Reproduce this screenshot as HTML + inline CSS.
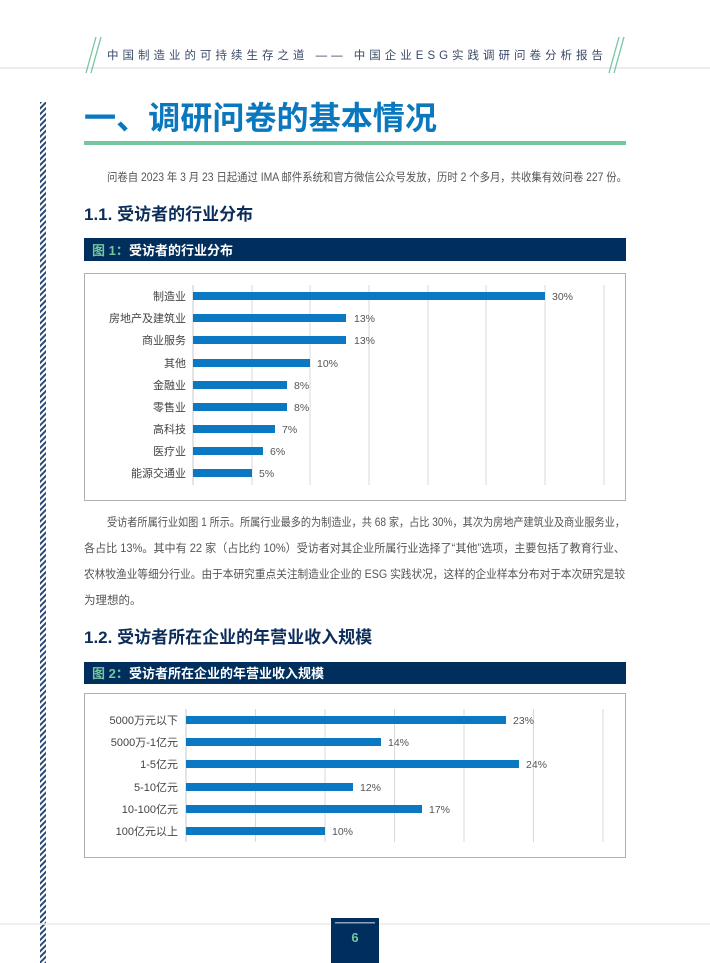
<!DOCTYPE html>
<html><head><meta charset="utf-8"><style>
body{margin:0;background:#fff;}
svg{display:block;font-family:"Liberation Sans","Noto Sans CJK SC",sans-serif;}
</style></head><body>
<svg width="710" height="963" viewBox="0 0 710 963" xmlns="http://www.w3.org/2000/svg">
<defs>
<pattern id="hatch" width="4" height="4" patternUnits="userSpaceOnUse" patternTransform="rotate(45)">
<rect width="4" height="4" fill="#fff"/><rect width="2" height="4" fill="#2a4a78"/></pattern>
</defs>
<line x1="0" y1="68" x2="710" y2="68" stroke="#e6e6e6" stroke-width="1.5"/>
<g stroke="#74c6a0" stroke-width="1.3"><line x1="86" y1="73" x2="96" y2="37"/><line x1="91" y1="73" x2="101" y2="37"/>
<line x1="609" y1="73" x2="619" y2="37"/><line x1="614" y1="73" x2="624" y2="37"/></g>
<text x="107" y="59" font-size="11.5" fill="#3a4a6a" textLength="496" lengthAdjust="spacing">中国制造业的可持续生存之道 —— 中国企业ESG实践调研问卷分析报告</text>
<rect x="40" y="102" width="6" height="861" fill="url(#hatch)"/>
<text x="84" y="129" font-size="32" font-weight="bold" fill="#0a78bf" textLength="353" lengthAdjust="spacingAndGlyphs">一、调研问卷的基本情况</text>
<rect x="84" y="141" width="542" height="4" fill="#74c6a0"/>
<text x="107" y="181" font-size="11.5" fill="#555" textLength="520" lengthAdjust="spacingAndGlyphs">问卷自 2023 年 3 月 23 日起通过 IMA 邮件系统和官方微信公众号发放，历时 2 个多月，共收集有效问卷 227 份。</text>
<text x="84" y="220" font-size="17" font-weight="bold" fill="#0c2d5a">1.1. 受访者的行业分布</text>
<rect x="84" y="238" width="542" height="23" fill="#002f5e"/>
<text x="92" y="255" font-size="13" font-weight="bold" fill="#74c6a0">图 1：</text>
<text x="129" y="255" font-size="13" font-weight="bold" fill="#fff">受访者的行业分布</text>
<rect x="84.5" y="273.5" width="541" height="227" fill="#fff" stroke="#b0b0b0"/>
<g stroke="#d9d9d9" stroke-width="1">
<line x1="252" y1="285" x2="252" y2="485"/><line x1="310" y1="285" x2="310" y2="485"/><line x1="369" y1="285" x2="369" y2="485"/><line x1="428" y1="285" x2="428" y2="485"/><line x1="486" y1="285" x2="486" y2="485"/><line x1="545" y1="285" x2="545" y2="485"/><line x1="604" y1="285" x2="604" y2="485"/></g>
<line x1="193" y1="285" x2="193" y2="485" stroke="#c8c8c8"/>
<g fill="#0a78c2">
<rect x="193" y="292" width="352" height="8"/><rect x="193" y="314" width="153" height="8"/><rect x="193" y="336" width="153" height="8"/><rect x="193" y="359" width="117" height="8"/><rect x="193" y="381" width="94" height="8"/><rect x="193" y="403" width="94" height="8"/><rect x="193" y="425" width="82" height="8"/><rect x="193" y="447" width="70" height="8"/><rect x="193" y="469" width="59" height="8"/></g>
<g font-size="11" fill="#444" text-anchor="end">
<text x="186" y="300">制造业</text><text x="186" y="322">房地产及建筑业</text><text x="186" y="344">商业服务</text><text x="186" y="367">其他</text><text x="186" y="389">金融业</text><text x="186" y="411">零售业</text><text x="186" y="433">高科技</text><text x="186" y="455">医疗业</text><text x="186" y="477">能源交通业</text></g>
<g font-size="10.5" fill="#555">
<text x="552" y="300">30%</text><text x="354" y="322">13%</text><text x="354" y="344">13%</text><text x="317" y="367">10%</text><text x="294" y="389">8%</text><text x="294" y="411">8%</text><text x="282" y="433">7%</text><text x="270" y="455">6%</text><text x="259" y="477">5%</text></g>
<g font-size="11.5" fill="#555" lengthAdjust="spacingAndGlyphs">
<text x="107" y="526" textLength="518" lengthAdjust="spacingAndGlyphs">受访者所属行业如图 1 所示。所属行业最多的为制造业，共 68 家，占比 30%，其次为房地产建筑业及商业服务业，</text>
<text x="84" y="552" textLength="541" lengthAdjust="spacingAndGlyphs">各占比 13%。其中有 22 家（占比约 10%）受访者对其企业所属行业选择了“其他”选项，主要包括了教育行业、</text>
<text x="84" y="578" textLength="541" lengthAdjust="spacingAndGlyphs">农林牧渔业等细分行业。由于本研究重点关注制造业企业的 ESG 实践状况，这样的企业样本分布对于本次研究是较</text>
<text x="84" y="604">为理想的。</text></g>
<text x="84" y="643" font-size="17" font-weight="bold" fill="#0c2d5a">1.2. 受访者所在企业的年营业收入规模</text>
<rect x="84" y="662" width="542" height="22" fill="#002f5e"/>
<text x="92" y="678" font-size="13" font-weight="bold" fill="#74c6a0">图 2：</text>
<text x="129" y="678" font-size="13" font-weight="bold" fill="#fff">受访者所在企业的年营业收入规模</text>
<rect x="84.5" y="693.5" width="541" height="164" fill="#fff" stroke="#b0b0b0"/>
<g stroke="#d9d9d9"><line x1="255.5" y1="709" x2="255.5" y2="842"/><line x1="325" y1="709" x2="325" y2="842"/><line x1="394.5" y1="709" x2="394.5" y2="842"/><line x1="464" y1="709" x2="464" y2="842"/><line x1="533.5" y1="709" x2="533.5" y2="842"/><line x1="603" y1="709" x2="603" y2="842"/></g>
<line x1="186" y1="709" x2="186" y2="842" stroke="#c8c8c8"/>
<g fill="#0a78c2">
<rect x="186" y="716" width="320" height="8"/><rect x="186" y="738" width="195" height="8"/><rect x="186" y="760" width="333" height="8"/><rect x="186" y="783" width="167" height="8"/><rect x="186" y="805" width="236" height="8"/><rect x="186" y="827" width="139" height="8"/></g>
<g font-size="11" fill="#444" text-anchor="end">
<text x="178" y="724">5000万元以下</text><text x="178" y="746">5000万-1亿元</text><text x="178" y="768">1-5亿元</text><text x="178" y="791">5-10亿元</text><text x="178" y="813">10-100亿元</text><text x="178" y="835">100亿元以上</text></g>
<g font-size="10.5" fill="#555">
<text x="513" y="724">23%</text><text x="388" y="746">14%</text><text x="526" y="768">24%</text><text x="360" y="791">12%</text><text x="429" y="813">17%</text><text x="332" y="835">10%</text></g>
<line x1="0" y1="924" x2="710" y2="924" stroke="#ececec" stroke-width="1.5"/>
<rect x="331" y="918" width="48" height="45" fill="#002f5e"/>
<rect x="335" y="922" width="40" height="1.5" fill="#8fa4bd"/>
<text x="355" y="942" font-size="13" font-weight="bold" fill="#74c6a0" text-anchor="middle">6</text>
</svg>
</body></html>
